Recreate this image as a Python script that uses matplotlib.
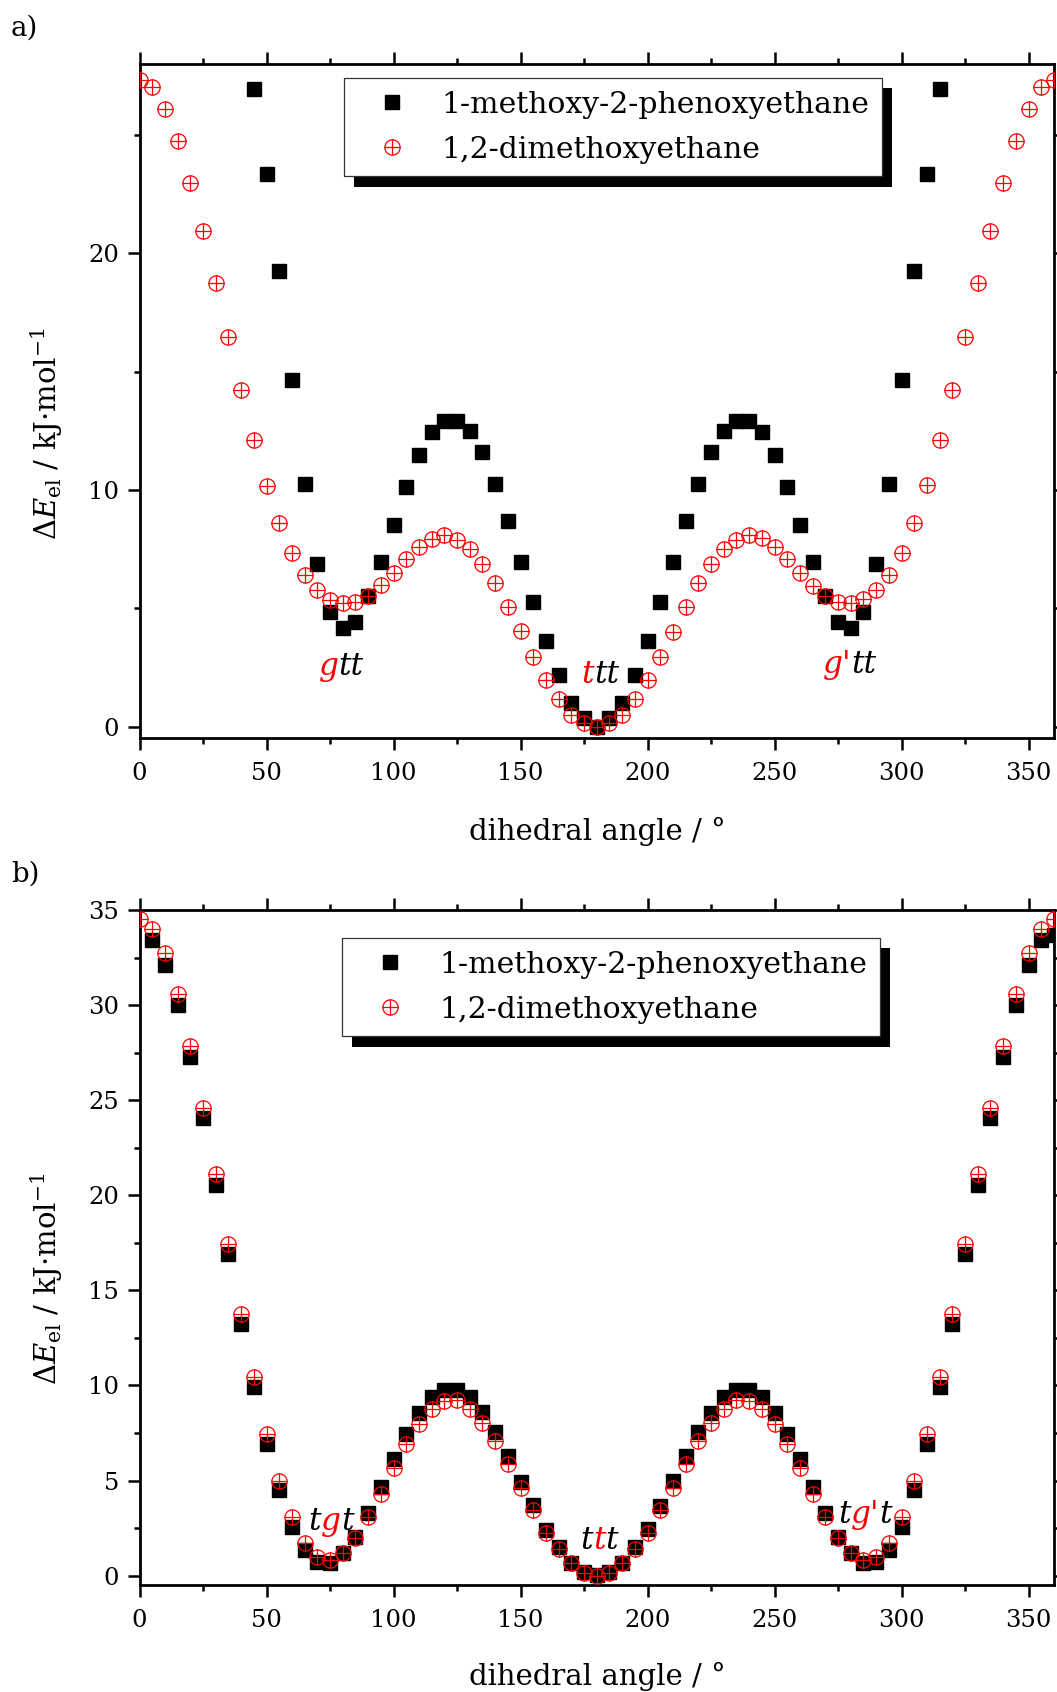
import numpy as np
import matplotlib
matplotlib.use("Agg")
import matplotlib.pyplot as plt
from matplotlib.path import Path
from matplotlib.ticker import MultipleLocator
import matplotlib.patheffects as pe

plt.rcParams["font.family"] = ["DejaVu Serif"]
plt.rcParams["mathtext.fontset"] = "dejavuserif"

# ---------------- data ----------------
# panel a: gauche/trans scan of the first dihedral
angles_a_mpe = np.arange(45, 316, 5)
dE_a_mpe = [26.93, 23.35, 19.25, 14.65, 10.25, 6.86, 4.83, 4.18, 4.44, 5.52,
            6.97, 8.54, 10.11, 11.48, 12.44, 12.92, 12.93, 12.51, 11.59, 10.25,
            8.70, 6.97, 5.27, 3.62, 2.18, 1.01, 0.35, 0.00, 0.35, 1.01,
            2.18, 3.62, 5.27, 6.97, 8.70, 10.25, 11.59, 12.51, 12.93, 12.92,
            12.44, 11.48, 10.11, 8.54, 6.97, 5.52, 4.44, 4.18, 4.83, 6.86,
            10.25, 14.65, 19.25, 23.35, 26.93]
angles_a_dme = np.arange(0, 361, 5)
dE_a_dme = [27.32, 27.03, 26.11, 24.73, 22.99, 20.96, 18.76, 16.48, 14.23, 12.11,
            10.18, 8.61, 7.34, 6.42, 5.77, 5.35, 5.21, 5.25, 5.52, 5.97,
            6.51, 7.10, 7.59, 7.94, 8.10, 7.89, 7.49, 6.89, 6.06, 5.07,
            4.03, 2.96, 1.97, 1.15, 0.49, 0.14, 0.00, 0.14, 0.49, 1.15,
            1.97, 2.96, 4.01, 5.07, 6.06, 6.89, 7.49, 7.89, 8.10, 7.96,
            7.59, 7.10, 6.51, 5.96, 5.52, 5.28, 5.21, 5.38, 5.77, 6.41,
            7.32, 8.59, 10.20, 12.11, 14.23, 16.48, 18.76, 20.96, 22.99, 24.73,
            26.11, 27.03, 27.32]

# panel b: scan of the central dihedral
angles_b_mpe = np.arange(5, 361, 5)
dE_b_mpe = [33.42, 32.13, 30.02, 27.29, 24.07, 20.53, 16.90, 13.25, 9.92,
            6.95, 4.50, 2.57, 1.35, 0.74, 0.65, 1.17, 2.05, 3.27, 4.67,
            6.16, 7.47, 8.58, 9.40, 9.78, 9.78, 9.40, 8.61, 7.56, 6.28,
            4.94, 3.71, 2.40, 1.49, 0.68, 0.21, 0.03, 0.21, 0.68, 1.49,
            2.43, 3.66, 4.99, 6.28, 7.56, 8.58, 9.40, 9.78, 9.78, 9.40,
            8.58, 7.47, 6.16, 4.67, 3.27, 2.05, 1.17, 0.65, 0.74, 1.35,
            2.57, 4.50, 6.95, 9.92, 13.25, 16.90, 20.53, 24.07, 27.29, 30.02,
            32.13, 33.42, 33.70]
angles_b_dme = np.arange(0, 361, 5)
dE_b_dme = [34.51, 34.02, 32.72, 30.60, 27.85, 24.61, 21.10, 17.43, 13.78, 10.45,
            7.47, 4.99, 3.06, 1.70, 1.00, 0.82, 1.17, 1.96, 3.06, 4.32,
            5.64, 6.91, 8.00, 8.75, 9.17, 9.22, 8.79, 8.03, 7.07, 5.86,
            4.62, 3.48, 2.26, 1.38, 0.65, 0.16, 0.00, 0.16, 0.65, 1.38,
            2.26, 3.45, 4.62, 5.86, 7.07, 8.03, 8.79, 9.22, 9.17, 8.75,
            8.00, 6.91, 5.64, 4.32, 3.06, 1.96, 1.17, 0.82, 1.00, 1.70,
            3.06, 4.99, 7.47, 10.45, 13.78, 17.43, 21.10, 24.61, 27.85, 30.60,
            32.72, 34.02, 34.51]

series_names = ["1-methoxy-2-phenoxyethane", "1,2-dimethoxyethane"]

# conformer labels: (angle, energy baseline, [(text, colour), ...])
conformers_a = [(79.3, 2.18, [("g", "red"), ("tt", "black")]),
                (181.3, 1.86, [("t", "red"), ("tt", "black")]),
                (279.6, 2.25, [("g'", "red"), ("tt", "black")])]
conformers_b = [(75.4, 2.40, [("t", "black"), ("g", "red"), ("t", "black")]),
                (181.0, 1.38, [("t", "black"), ("t", "red"), ("t", "black")]),
                (285.7, 2.75, [("t", "black"), ("g'", "red"), ("t", "black")])]

# ---------------- figure ----------------
W, H, DPI = 1057, 1692, 100
fig = plt.figure(figsize=(W / DPI, H / DPI), dpi=DPI)

left_px, right_px = 139.5, 1054.0
ax_a = fig.add_axes([left_px / W, 1 - 738.5 / H, (right_px - left_px) / W, (738.5 - 64.0) / H])
ax_b = fig.add_axes([left_px / W, 1 - 1585.2 / H, (right_px - left_px) / W, (1585.2 - 910.0) / H])

# circle with a cross inside
circ = Path.unit_circle()
cross = Path([(-1, 0), (1, 0), (0, -1), (0, 1)],
             [Path.MOVETO, Path.LINETO, Path.MOVETO, Path.LINETO])
oplus = Path.make_compound_path(circ, cross)

TICK_FS = 17.5
LABEL_FS = 21
LEG_FS = 21.5
ANNOT_FS = 22.5


def style_axes(ax, ymax, ymajor, yminor):
    ax.set_xlim(0, 360)
    ax.set_ylim(-0.5, ymax)
    ax.xaxis.set_major_locator(MultipleLocator(50))
    ax.xaxis.set_minor_locator(MultipleLocator(25))
    ax.yaxis.set_major_locator(MultipleLocator(ymajor))
    ax.yaxis.set_minor_locator(MultipleLocator(yminor))
    for s in ax.spines.values():
        s.set_linewidth(2.0)
    ax.tick_params(which="both", direction="out", top=True, right=True,
                   width=1.8, labelsize=TICK_FS)
    ax.tick_params(which="major", length=8.5)
    ax.tick_params(which="minor", length=4.0)
    ax.tick_params(axis="x", which="major", pad=8.5)
    ax.tick_params(axis="y", which="major", pad=6)


def plot_panel(ax, xa, ya, xb, yb):
    ax.plot(xa, ya, linestyle="none", marker="s", markersize=10,
            color="black", label=series_names[0], zorder=3)
    ax.plot(xb, yb, linestyle="none", marker=oplus, markersize=11,
            markerfacecolor="none", markeredgecolor="red",
            markeredgewidth=0.9, label=series_names[1], zorder=4)


plot_panel(ax_a, angles_a_mpe, dE_a_mpe, angles_a_dme, dE_a_dme)
plot_panel(ax_b, angles_b_mpe, dE_b_mpe, angles_b_dme, dE_b_dme)
style_axes(ax_a, 28, 10, 5)
style_axes(ax_b, 35, 5, 2.5)


def add_legend(ax, x0, y0):
    leg = ax.legend(loc="upper left", bbox_to_anchor=(x0, y0), borderaxespad=0,
                    fontsize=LEG_FS, frameon=True, fancybox=False,
                    edgecolor="#333333", framealpha=1, handlelength=2.4,
                    handletextpad=0.45, borderpad=0.42, labelspacing=0.58)
    frame = leg.get_frame()
    frame.set_linewidth(0.9)
    frame.set_path_effects([pe.SimplePatchShadow(offset=(7.4, -7.4),
                                                 shadow_rgbFace="black", alpha=1.0),
                            pe.Normal()])
    return leg


add_legend(ax_a, (344 - left_px) / (right_px - left_px), (738.5 - 78) / 674.5)
add_legend(ax_b, (342 - left_px) / (right_px - left_px), (1585.2 - 938) / 675.2)

# axis labels
ylab = "Δ$E_\\mathrm{el}$ / kJ·mol$^{-1}$"
fig.text(47 / W, 1 - 434 / H, ylab, rotation=90, ha="center", va="center",
         fontsize=LABEL_FS)
fig.text(47 / W, 1 - 1279 / H, ylab, rotation=90, ha="center", va="center",
         fontsize=LABEL_FS)
fig.text(597 / W, 1 - 840 / H, "dihedral angle / °", ha="center",
         va="baseline", fontsize=LABEL_FS)
fig.text(597 / W, 1 - 1685 / H, "dihedral angle / °", ha="center",
         va="baseline", fontsize=LABEL_FS)

# panel letters
fig.text(11 / W, 1 - 36 / H, "a)", ha="left", va="baseline", fontsize=20)
fig.text(11 / W, 1 - 882 / H, "b)", ha="left", va="baseline", fontsize=20)

# multicoloured conformer labels
fig.canvas.draw()
renderer = fig.canvas.get_renderer()


def conformer_label(ax, x, y, parts):
    widths = []
    for s, c in parts:
        t = ax.text(0, 0, s, fontsize=ANNOT_FS, style="italic")
        widths.append(t.get_window_extent(renderer).width)
        t.remove()
    off = -sum(widths) / 2.0
    for (s, c), w in zip(parts, widths):
        ax.annotate(s, (x, y), xytext=(off * 72.0 / DPI, 0),
                    textcoords="offset points", ha="left", va="baseline",
                    color=c, fontsize=ANNOT_FS, style="italic", zorder=5)
        off += w


for x, y, parts in conformers_a:
    conformer_label(ax_a, x, y, parts)
for x, y, parts in conformers_b:
    conformer_label(ax_b, x, y, parts)

fig.savefig("out.png", dpi=DPI)
